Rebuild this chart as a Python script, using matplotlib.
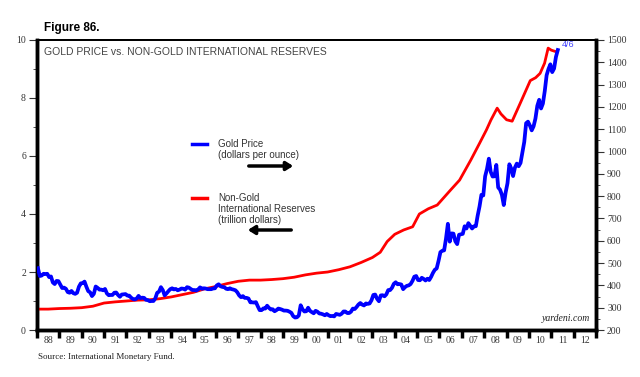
import matplotlib
matplotlib.use("Agg")
import matplotlib.pyplot as plt
import numpy as np
from matplotlib.ticker import MultipleLocator, FixedLocator, NullFormatter, FixedFormatter

# Gold price, monthly averages (dollars per ounce), Jan 1988 .. Apr 2011
gold_start_year = 1988
gold_price = [
    477, 442, 444, 452, 451, 452, 437, 440, 413, 406, 420, 419,
    404, 388, 390, 385, 370, 367, 375, 365, 362, 367, 394, 409,
    410, 417, 394, 374, 369, 352, 362, 395, 389, 381, 381, 378,
    384, 364, 356, 357, 357, 367, 368, 357, 349, 359, 360, 361,
    354, 354, 345, 339, 337, 341, 353, 343, 345, 344, 335, 334,
    329, 330, 330, 342, 367, 372, 392, 379, 355, 364, 374, 383,
    387, 382, 384, 378, 381, 386, 385, 381, 392, 390, 384, 379,
    379, 377, 382, 391, 385, 387, 386, 383, 383, 383, 386, 387,
    400, 405, 396, 393, 392, 385, 383, 387, 383, 381, 378, 369,
    355, 347, 352, 344, 344, 341, 324, 324, 323, 325, 306, 289,
    289, 297, 296, 309, 299, 292, 293, 284, 289, 296, 294, 291,
    287, 287, 286, 282, 277, 262, 256, 257, 265, 311, 293, 283,
    284, 300, 286, 280, 275, 286, 282, 274, 273, 270, 266, 272,
    266, 262, 263, 261, 272, 270, 268, 273, 283, 283, 276, 276,
    282, 296, 294, 303, 314, 321, 314, 310, 319, 317, 319, 333,
    357, 359, 340, 329, 355, 356, 351, 360, 379, 379, 389, 407,
    414, 405, 406, 404, 383, 392, 398, 400, 406, 420, 439, 442,
    424, 423, 434, 429, 422, 430, 424, 438, 456, 470, 476, 510,
    549, 555, 557, 610, 676, 596, 633, 632, 598, 585, 627, 629,
    631, 665, 655, 679, 667, 655, 665, 665, 713, 754, 806, 803,
    889, 922, 968, 909, 888, 889, 940, 839, 829, 806, 760, 816,
    858, 943, 924, 890, 928, 946, 934, 949, 996, 1043, 1127, 1134,
    1117, 1095, 1113, 1148, 1205, 1232, 1193, 1215, 1271, 1342, 1370, 1391,
    1356, 1372, 1424, 1455,
]

# Non-gold international reserves (trillion dollars)
reserves_year = [1988.0, 1988.5, 1989.0, 1989.5, 1990.0, 1990.5, 1991.0, 1991.5,
                 1992.0, 1992.5, 1993.0, 1993.5, 1994.0, 1994.5, 1995.0, 1995.5,
                 1996.0, 1996.5, 1997.0, 1997.5, 1998.0, 1998.5, 1999.0, 1999.5,
                 2000.0, 2000.5, 2001.0, 2001.5, 2002.0, 2002.5, 2003.0, 2003.35,
                 2003.66, 2004.0, 2004.4, 2004.8, 2005.1, 2005.5, 2005.9, 2006.5,
                 2006.9, 2007.4, 2007.8, 2008.1, 2008.3, 2008.58, 2008.75, 2009.0,
                 2009.25, 2009.6, 2010.06, 2010.3, 2010.5, 2010.7, 2010.86, 2011.0, 2011.2]
reserves_value = [0.72, 0.72, 0.74, 0.75, 0.77, 0.82, 0.93, 0.97,
                  1.00, 1.03, 1.04, 1.08, 1.14, 1.22, 1.30, 1.42,
                  1.50, 1.60, 1.68, 1.72, 1.72, 1.74, 1.77, 1.82,
                  1.90, 1.96, 2.00, 2.08, 2.18, 2.33, 2.50, 2.68,
                  3.05, 3.30, 3.45, 3.56, 4.00, 4.18, 4.31, 4.83,
                  5.17, 5.86, 6.45, 6.90, 7.24, 7.65, 7.45, 7.25,
                  7.20, 7.80, 8.60, 8.70, 8.85, 9.20, 9.72, 9.65, 9.60]

year_labels = ["88", "89", "90", "91", "92", "93", "94", "95", "96", "97", "98", "99",
               "00", "01", "02", "03", "04", "05", "06", "07", "08", "09", "10", "11", "12"]

W, H = 640, 377
fig = plt.figure(figsize=(W / 100, H / 100), dpi=100)
ax = fig.add_axes([37 / W, 1 - 330 / H, (596 - 37) / W, (330 - 40) / H])
ax2 = ax.twinx()

serif = "Liberation Serif"
sans = "Liberation Sans"

# Data lines
gold_t = gold_start_year + (np.arange(len(gold_price)) + 0.5) / 12.0
ax.plot(reserves_year, reserves_value, color="#ff0000", lw=2.0, solid_capstyle="round", zorder=3)
ax2.plot(gold_t, gold_price, color="#0000ff", lw=2.7, zorder=3)

ax.set_xlim(1988, 2013)
ax.set_ylim(0, 10)
ax2.set_ylim(200, 1500)

# Spines
for a in (ax, ax2):
    a.spines["left"].set_linewidth(2.5)
    a.spines["right"].set_linewidth(2.5)
    a.spines["bottom"].set_linewidth(2.5)
    a.spines["top"].set_linewidth(1.4)

# Left y ticks
ax.yaxis.set_major_locator(MultipleLocator(2))
ax.yaxis.set_minor_locator(MultipleLocator(1))
ax.tick_params(axis="y", which="major", direction="out", length=6, width=0.8, labelsize=7, colors="#333333", pad=2)
ax.tick_params(axis="y", which="minor", direction="out", length=3, width=0.6, colors="#333333")
for lab in ax.get_yticklabels():
    lab.set_family(serif)

# Right y ticks
ax2.yaxis.set_major_locator(MultipleLocator(100))
ax2.yaxis.set_minor_locator(MultipleLocator(50))
ax2.tick_params(axis="y", which="major", direction="out", length=6, width=0.8, labelsize=7, colors="#333333", pad=2)
ax2.tick_params(axis="y", which="minor", direction="out", length=3, width=0.6, colors="#333333")
for lab in ax2.get_yticklabels():
    lab.set_family(serif)

# X axis: thick year ticks, labels centered in years
ax.xaxis.set_major_locator(FixedLocator(np.arange(1988, 2014)))
ax.xaxis.set_major_formatter(NullFormatter())
ax.xaxis.set_minor_locator(FixedLocator(np.arange(1988, 2013) + 0.5))
ax.xaxis.set_minor_formatter(FixedFormatter(year_labels))
ax.tick_params(axis="x", which="major", direction="out", length=6, width=2.5, color="black")
ax.tick_params(axis="x", which="minor", length=0, labelsize=7, colors="#333333", pad=4)
for lab in ax.get_xticklabels(minor=True):
    lab.set_family(serif)

# Texts
fig.text(44 / W, 1 - 28 / H, "Figure 86.", fontsize=8.5, fontweight="bold", family=sans, va="center", ha="left")
ax.text(0.013, 0.975, "GOLD PRICE vs. NON-GOLD INTERNATIONAL RESERVES", transform=ax.transAxes,
        fontsize=7.5, color="#444444", family=sans, va="top", ha="left")
fig.text(38 / W, 1 - 357 / H, "Source: International Monetary Fund.", fontsize=6.5, family=serif,
         va="center", ha="left", color="#222222")
ax.text(0.99, 0.025, "yardeni.com", transform=ax.transAxes, fontsize=7, family=serif, style="italic",
        va="bottom", ha="right", color="#222222")
ax2.text(2011.45, 1460, "4/6", fontsize=6.5, color="#4444ff", family=sans, va="bottom", ha="left")

# Legend
def fx(px):
    return px / W

def fy(py):
    return 1 - py / H

fig.add_artist(plt.Line2D([fx(192), fx(207)], [fy(144), fy(144)], color="#0000ff", lw=2.5,
                          transform=fig.transFigure))
fig.text(fx(218), fy(144), "Gold Price", fontsize=7, color="#333333", family=sans, va="center", ha="left")
fig.text(fx(218), fy(155), "(dollars per ounce)", fontsize=7, color="#333333", family=sans, va="center", ha="left")
fig.add_artist(plt.Line2D([fx(192), fx(207)], [fy(198), fy(198)], color="#ff0000", lw=2.5,
                          transform=fig.transFigure))
fig.text(fx(218), fy(198), "Non-Gold", fontsize=7, color="#333333", family=sans, va="center", ha="left")
fig.text(fx(218), fy(209), "International Reserves", fontsize=7, color="#333333", family=sans, va="center", ha="left")
fig.text(fx(218), fy(220), "(trillion dollars)", fontsize=7, color="#333333", family=sans, va="center", ha="left")

fig.add_artist(matplotlib.patches.FancyArrowPatch((fx(246), fy(166)), (fx(296), fy(166)),
               transform=fig.transFigure, arrowstyle="-|>,head_length=4,head_width=2.5",
               color="black", lw=2.5, mutation_scale=1))
fig.add_artist(matplotlib.patches.FancyArrowPatch((fx(294), fy(230)), (fx(245), fy(230)),
               transform=fig.transFigure, arrowstyle="-|>,head_length=4,head_width=2.5",
               color="black", lw=2.5, mutation_scale=1))

fig.savefig("out.png", dpi=100)
